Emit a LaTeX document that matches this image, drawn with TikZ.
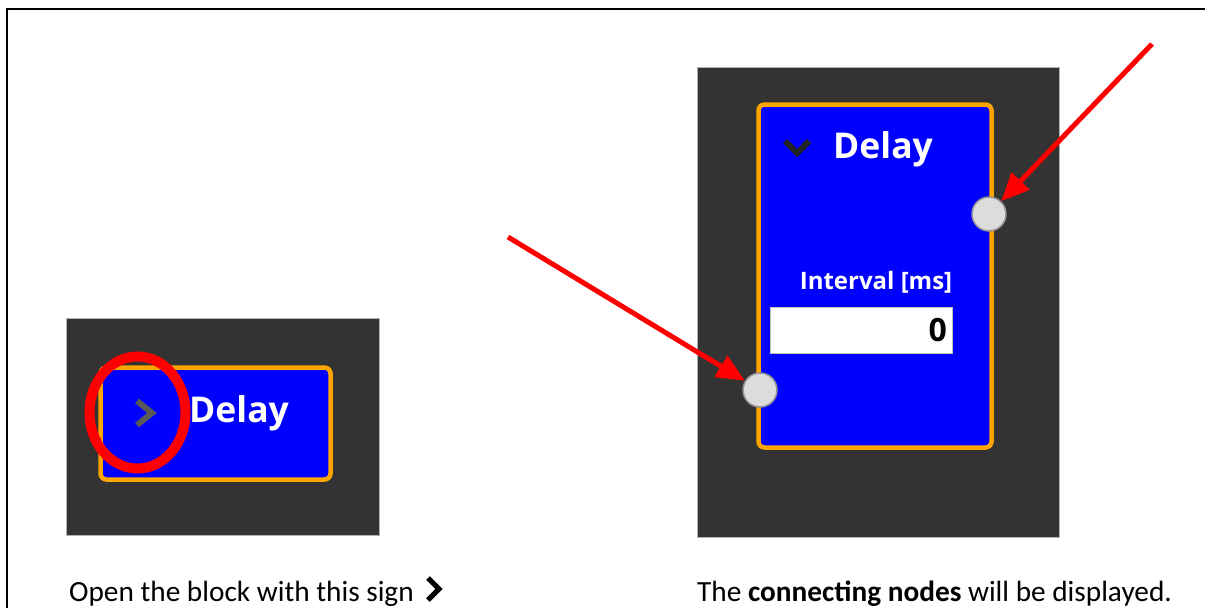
\documentclass[tikz,border=0pt]{standalone}
\usepackage{fontspec}
\setmainfont{Carlito}
\newfontfamily\uifont{Open Sans}
\usetikzlibrary{arrows.meta,shapes.geometric}

\definecolor{panelgray}{HTML}{333333}
\definecolor{blockblue}{HTML}{0000FF}
\definecolor{blockorange}{HTML}{FFA500}
\definecolor{portgray}{HTML}{DCDCDC}
\definecolor{markred}{HTML}{FF0000}

\tikzset{
  panel/.style={rectangle,fill=panelgray,draw=gray!60,line width=0.8pt,inner sep=0pt},
  block/.style={rectangle,rounded corners=6pt,fill=blockblue,draw=blockorange,line width=4.5pt,inner sep=0pt},
  title/.style={text=white,font=\uifont\bfseries\fontsize{35.5}{40}\selectfont,inner sep=0pt,anchor=west},
  label/.style={text=white,font=\uifont\bfseries\fontsize{24}{28}\selectfont,inner sep=0pt},
  valuebox/.style={rectangle,fill=white,draw=gray!50,line width=1pt,minimum width=182pt,minimum height=46pt,
    inner xsep=5pt,text width=172pt,align=right,font=\uifont\bfseries\fontsize{32}{36}\selectfont},
  port/.style={circle,fill=portgray,draw=gray!85,line width=1.5pt,minimum size=34pt,inner sep=0pt},
  ring/.style={ellipse,draw=markred,line width=10pt,minimum width=96pt,minimum height=112pt,inner sep=0pt},
  pointer/.style={draw=markred,line width=5pt,-{Triangle[length=28pt,width=24pt]}},
  chevron/.style={line width=6pt},
  caption/.style={font=\fontsize{29.3}{34}\selectfont,inner sep=0pt,anchor=base west},
  frame/.style={line width=2pt}
}

\begin{document}
\begin{tikzpicture}[x=1pt,y=-1pt]
\useasboundingbox (0,0) rectangle (1205,608);
\draw[frame] (7,608) -- (7,8.5) -- (1205,8.5);

% closed block
\node(panelA) at (222.5,426.5)[panel,minimum width=313pt,minimum height=217pt]{};
\node(blockA) at (215.5,423.5)[block,minimum width=230pt,minimum height=112pt]{};
\draw[chevron,draw=gray!70!black] (137,401) -- (152,413) -- (137,425);
\node(titleA) at (189,413)[title]{Delay};
\node(ringA) at (137.5,412.5)[ring]{};

% opened block
\node(panelB) at (878,302)[panel,minimum width=362pt,minimum height=470pt]{};
\node(blockB) at (875,276)[block,minimum width=233pt,minimum height=343pt]{};
\draw[chevron,draw=panelgray!70!black] (785,141) -- (797,153) -- (809,141);
\node(titleB) at (833,149)[title]{Delay};
\node(interval) at (876,282)[label]{Interval [ms]};
\node(value) at (861,330)[valuebox]{0};
\node(portR) at (989,214)[port]{};
\node(portL) at (760,390)[port]{};

\coordinate(tailR) at (1152,44);
\coordinate(tailL) at (508,237);
\path
  (tailR)  edge [pointer]  (portR)
  (tailL)  edge [pointer]  (portL);

% captions
\node(captionA) at (69,601)[caption]{Open the block with this sign};
\draw[line width=5pt] (428,578) -- (439,589) -- (428,600);
\node(captionB) at (697,601)[caption]{The \textbf{connecting nodes} will be displayed.};
\end{tikzpicture}
\end{document}
